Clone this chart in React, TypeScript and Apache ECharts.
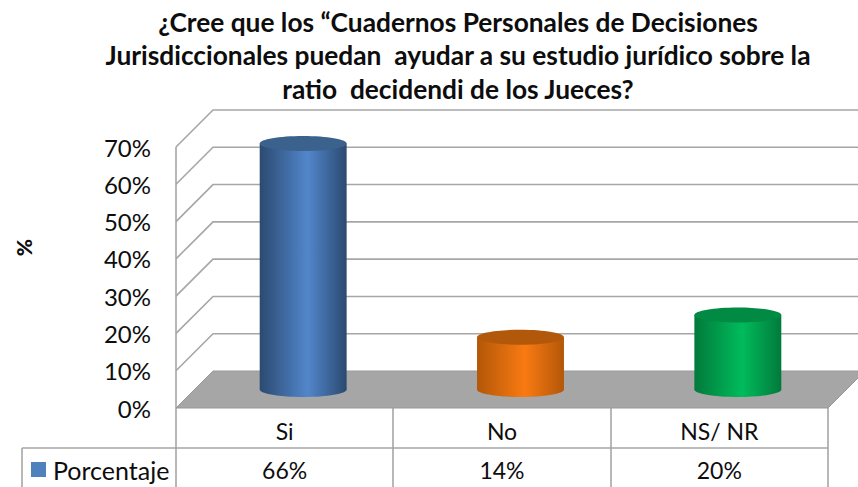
import React, { useEffect, useRef } from "react";
import * as echarts from "echarts";

const categories = ["Si", "No", "NS/ NR"];
const values = [66, 14, 20];
const yTicks = [10, 20, 30, 40, 50, 60, 70];
const seriesName = "Porcentaje";
const titleLines = [
  "¿Cree que los “Cuadernos Personales de Decisiones",
  "Jurisdiccionales puedan  ayudar a su estudio jurídico sobre la",
  "ratio  decidendi de los Jueces?",
];
const palette = [
  { edge: "#2b4a70", mid: "#5286cb", top: "#3b618d" },
  { edge: "#b35708", mid: "#f97a12", top: "#b2580a" },
  { edge: "#017a3b", mid: "#00bb5c", top: "#018a44" },
];

const FONT = "Lato, 'Open Sans', sans-serif";
const INK = "#0d0d0d";
const GREY = "#a6a6a6";
const GRID = { left: 176, top: 147, width: 652, height: 261 };
const DEPTH = 37;
const TABLE = { left: 22, rowTop: 448, bottom: 490, colA: 393, colB: 611 };

function line(x1: number, y1: number, x2: number, y2: number) {
  return {
    type: "line",
    silent: true,
    shape: { x1, y1, x2, y2 },
    style: { stroke: GREY, lineWidth: 1.6 },
  };
}

export default function App() {
  const ref = useRef<HTMLDivElement>(null);
  useEffect(() => {
    document.body.style.margin = "0";
    const chart = echarts.init(ref.current!, null, { renderer: "svg" });
    const right = GRID.left + GRID.width;
    const bottom = GRID.top + GRID.height;
    chart.setOption({
      animation: false,
      backgroundColor: "#ffffff",
      textStyle: { fontFamily: FONT },
      title: {
        text: titleLines.join("\n"),
        left: 453,
        top: 0,
        textAlign: "center",
        textStyle: {
          fontFamily: FONT,
          fontSize: 26.3,
          fontWeight: "bold",
          color: INK,
          lineHeight: 33.5,
        },
      },
      legend: {
        left: 31,
        top: 457,
        padding: 0,
        itemWidth: 15,
        itemHeight: 15,
        itemGap: 0,
        selectedMode: false,
        data: [{ name: seriesName, icon: "rect", itemStyle: { color: "#4f81bd" } }],
        textStyle: { fontFamily: FONT, fontSize: 25, color: INK, padding: [0, 0, 0, 2] },
      },
      grid: { ...GRID, containLabel: false },
      xAxis: {
        type: "category",
        data: categories,
        axisLine: { show: false },
        axisTick: { show: false },
        axisLabel: { fontFamily: FONT, fontSize: 23, color: INK, margin: 11 },
      },
      yAxis: {
        type: "value",
        min: 0,
        max: 70,
        interval: 10,
        name: "%",
        nameLocation: "middle",
        nameGap: 142,
        nameRotate: 90,
        nameTextStyle: {
          fontFamily: FONT,
          fontSize: 21,
          fontWeight: 900,
          color: INK,
          padding: [0, 0, 0, 60],
        },
        axisLine: { show: false },
        axisTick: { show: false },
        splitLine: { show: false },
        axisLabel: {
          formatter: "{value}%",
          fontFamily: FONT,
          fontSize: 24,
          color: INK,
          margin: 25,
        },
      },
      graphic: [
        // data table frame
        line(GRID.left, GRID.top, GRID.left, TABLE.bottom),
        line(TABLE.left, TABLE.rowTop, right, TABLE.rowTop),
        line(TABLE.left, TABLE.rowTop, TABLE.left, TABLE.bottom),
        line(TABLE.colA, bottom, TABLE.colA, TABLE.bottom),
        line(TABLE.colB, bottom, TABLE.colB, TABLE.bottom),
        line(right, bottom, right, TABLE.bottom),
      ],
      series: [
        {
          type: "custom",
          name: "floor",
          silent: true,
          z: 1,
          data: [[0, 0]],
          renderItem: (params: any, api: any) => {
            const y = api.coord([0, api.value(1)])[1];
            const x = params.coordSys.x;
            const r = x + params.coordSys.width;
            return {
              type: "polygon",
              shape: {
                points: [
                  [x, y],
                  [x + DEPTH, y - DEPTH],
                  [r + DEPTH, y - DEPTH],
                  [r, y],
                ],
              },
              style: { fill: GREY, stroke: "#999999", lineWidth: 1 },
            };
          },
        },
        {
          type: "custom",
          name: "walls",
          silent: true,
          z: 1,
          data: yTicks.map((t) => [0, t]),
          renderItem: (params: any, api: any) => {
            const y = api.coord([0, api.value(1)])[1];
            const x = params.coordSys.x;
            const r = x + params.coordSys.width;
            return {
              type: "polyline",
              shape: {
                points: [
                  [x, y],
                  [x + DEPTH, y - DEPTH],
                  [r + DEPTH, y - DEPTH],
                ],
              },
              style: { stroke: GREY, lineWidth: 1.6, fill: "none" },
            };
          },
        },
        {
          type: "custom",
          name: seriesName,
          z: 3,
          itemStyle: { color: "#4f81bd" },
          data: values.map((v, i) => [i, v]),
          renderItem: (params: any, api: any) => {
            const i = api.value(0);
            const top = api.coord([i, api.value(1)]);
            const base = api.coord([i, 0]);
            const off = DEPTH / 2;
            const cx = top[0] + off;
            const rx = (api.size([1, 0])[0] * 0.4) / 2;
            const ry = 7.5;
            const yTop = top[1] - off;
            const yBase = base[1] - off;
            const c = palette[params.dataIndex];
            const grad = new echarts.graphic.LinearGradient(0, 0, 1, 0, [
              { offset: 0, color: c.edge },
              { offset: 0.55, color: c.mid },
              { offset: 1, color: c.edge },
            ]);
            return {
              type: "group",
              children: [
                {
                  type: "ellipse",
                  shape: { cx, cy: yBase, rx, ry },
                  style: { fill: grad },
                },
                {
                  type: "rect",
                  shape: { x: cx - rx, y: yTop, width: rx * 2, height: yBase - yTop },
                  style: { fill: grad },
                },
                {
                  type: "ellipse",
                  shape: { cx, cy: yTop, rx, ry },
                  style: { fill: c.top },
                },
              ],
            };
          },
        },
        {
          type: "custom",
          name: "table",
          silent: true,
          z: 4,
          data: values.map((v, i) => [i, v]),
          renderItem: (_params: any, api: any) => {
            const p = api.coord([api.value(0), 0]);
            return {
              type: "text",
              x: p[0],
              y: TABLE.rowTop + 22,
              style: {
                text: `${api.value(1)}%`,
                fontFamily: FONT,
                fontSize: 23,
                fill: INK,
                align: "center",
                verticalAlign: "middle",
              },
            };
          },
        },
      ],
    });
    return () => chart.dispose();
  }, []);
  return (
    <div
      ref={ref}
      style={{ position: "fixed", left: 0, top: 0, width: 858, height: 487 }}
    />
  );
}
